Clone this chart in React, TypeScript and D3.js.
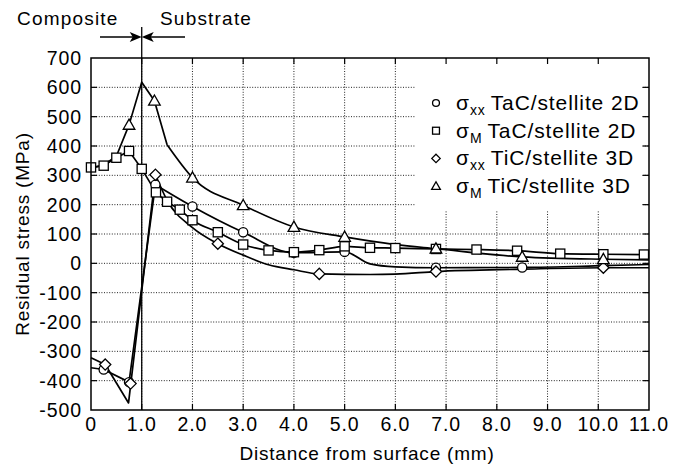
import React from "react";
import * as d3 from "d3";

type Pt = [number, number];

// axis ticks
const xTickValues = d3.range(0, 12);
const yTickValues = d3.range(-500, 701, 100);

// sigma_xx TaC/stellite 2D (circles)
const sxxTaCLine: Pt[] = [
  [0, -356], [0.25, -362], [0.75, -405], [1.27, 268], [2.0, 194], [3.0, 106],
  [4.0, 36], [5.0, 39], [5.5, -2], [6.0, -12], [6.8, -15], [8.5, -14], [10.1, -8], [11, -4],
];
const sxxTaCMarks: Pt[] = [
  [0.25, -362], [0.75, -405], [1.27, 268], [2.0, 194], [3.0, 106], [4.0, 36],
  [5.0, 39], [6.8, -15], [8.5, -14], [10.1, -8],
];

// sigma_M TaC/stellite 2D (squares)
const sMTaCLine: Pt[] = [
  [0, 327], [0.25, 333], [0.5, 360], [0.75, 383], [1.0, 322], [1.28, 242], [1.5, 210],
  [1.75, 183], [2.0, 147], [2.5, 106], [3.0, 64], [3.5, 44], [4.0, 38], [4.5, 45],
  [5.0, 58], [5.5, 53], [6.0, 52], [6.8, 49], [7.6, 47], [8.4, 43], [9.25, 33],
  [10.1, 31], [10.9, 30],
];
const sMTaCMarks: Pt[] = sMTaCLine;

// sigma_xx TiC/stellite 3D (diamonds)
const sxxTiCLine: Pt[] = [
  [0, -322], [0.28, -345], [0.74, -476], [1.27, 302], [1.5, 215], [2.0, 122],
  [2.5, 67], [3.0, 28], [3.5, -5], [4.0, -22], [4.5, -36], [5.5, -38], [6.0, -37],
  [6.8, -28], [8.5, -20], [10.1, -15], [11, -15],
];
const sxxTiCMarks: Pt[] = [
  [0.28, -345], [0.78, -410], [1.27, 302], [2.5, 67], [4.5, -36], [6.8, -28], [10.1, -15],
];

// sigma_M TiC/stellite 3D (triangles)
const sMTiCLine: Pt[] = [
  [0, 325], [0.25, 335], [0.5, 365], [0.75, 472], [1.0, 617], [1.25, 554], [1.5, 404],
  [2.0, 292], [3.0, 198], [4.0, 124], [5.0, 90], [6.0, 64], [6.8, 50], [8.5, 22],
  [10.1, 14], [11, 12],
];
const sMTiCMarks: Pt[] = [
  [0.75, 472], [1.25, 554], [2.0, 292], [3.0, 198], [4.0, 124], [5.0, 90],
  [6.8, 50], [8.5, 22], [10.1, 14],
];

// straight segments up to this depth, smooth decay after it
const straightUntil = [1.27, 1.28, 1.27, 1.5];

const legendSub = ["xx", "M", "xx", "M"];
const legendRest = ["TaC/stellite 2D", "TaC/stellite 2D", "TiC/stellite 3D", "TiC/stellite 3D"];
const legendShape = ["circle", "square", "diamond", "triangle"];

const W = 677;
const H = 468;
const left = 91;
const right = 649;
const top = 58;
const bottom = 410;
const FONT = "'Liberation Sans', Arial, Helvetica, sans-serif";

function Marker({ shape, x, y, s = 1 }: { shape: string; x: number; y: number; s?: number }) {
  const common = { fill: "#fff", stroke: "#000", strokeWidth: 1.3 };
  if (shape === "circle") return <circle cx={x} cy={y} r={4.6 * s} {...common} />;
  if (shape === "square") {
    const h = 4.6 * s;
    return <rect x={x - h} y={y - h} width={2 * h} height={2 * h} {...common} />;
  }
  if (shape === "diamond") {
    const h = 5.6 * s;
    return <path d={`M${x},${y - h}L${x + h},${y}L${x},${y + h}L${x - h},${y}Z`} {...common} />;
  }
  const h = 5.8 * s;
  return <path d={`M${x},${y - h}L${x + h},${y + h * 0.75}L${x - h},${y + h * 0.75}Z`} {...common} />;
}

export default function App() {
  const x = d3.scaleLinear().domain([0, 11]).range([left, right]);
  const y = d3.scaleLinear().domain([-500, 700]).range([bottom, top]);
  const straight = d3
    .line<Pt>()
    .x((d) => x(d[0]))
    .y((d) => y(d[1]));
  const smooth = d3
    .line<Pt>()
    .x((d) => x(d[0]))
    .y((d) => y(d[1]))
    .curve(d3.curveMonotoneX);

  const series = [
    { line: sxxTaCLine, marks: sxxTaCMarks, shape: "circle" },
    { line: sMTaCLine, marks: sMTaCMarks, shape: "square" },
    { line: sxxTiCLine, marks: sxxTiCMarks, shape: "diamond" },
    { line: sMTiCLine, marks: sMTiCMarks, shape: "triangle" },
  ];

  const innerX = xTickValues.filter((d) => d > 0 && d < 11);
  const innerY = yTickValues.filter((d) => d > -500 && d < 700);
  const x1 = x(1);

  const legX = 436;
  const legY0 = 103;
  const legDy = 27.7;

  return (
    <svg
      width={W}
      height={H}
      style={{ position: "absolute", left: 0, top: 0, background: "#fff" }}
      fontFamily={FONT}
    >
      <rect width={W} height={H} fill="#fff" />
      {/* dotted grid */}
      <g stroke="#222" strokeWidth={1} strokeDasharray="1,1.6">
        {innerX.map((d) => (
          <line key={"gx" + d} x1={x(d)} x2={x(d)} y1={top} y2={bottom} />
        ))}
        {innerY.map((d) => (
          <line key={"gy" + d} x1={left} x2={right} y1={y(d)} y2={y(d)} />
        ))}
      </g>
      {/* legend background */}
      <rect x={415} y={top + 1} width={227} height={152} fill="#fff" />

      {/* interface line */}
      <line x1={x1} x2={x1} y1={27} y2={bottom} stroke="#000" strokeWidth={1.3} />

      {/* curves */}
      {series.map((s, i) => {
        const near = s.line.filter((p) => p[0] <= straightUntil[i]);
        const far = s.line.filter((p) => p[0] >= straightUntil[i]);
        return (
          <g key={"l" + i} fill="none" stroke="#000" strokeWidth={1.7} strokeLinejoin="round">
            <path d={straight(near) || ""} />
            <path d={smooth(far) || ""} />
          </g>
        );
      })}
      {series.map((s, i) =>
        s.marks.map((p, j) => (
          <Marker key={`m${i}-${j}`} shape={s.shape} x={x(p[0])} y={y(p[1])} />
        ))
      )}

      {/* frame and inward ticks */}
      <rect x={left} y={top} width={right - left} height={bottom - top} fill="none" stroke="#000" strokeWidth={1.5} />
      <g stroke="#000" strokeWidth={1.2}>
        {innerX.map((d) => (
          <g key={"tx" + d}>
            <line x1={x(d)} x2={x(d)} y1={bottom} y2={bottom - 6} />
            <line x1={x(d)} x2={x(d)} y1={top} y2={top + 6} />
          </g>
        ))}
        {innerY.map((d) => (
          <g key={"ty" + d}>
            <line x1={left} x2={left + 6} y1={y(d)} y2={y(d)} />
            <line x1={right} x2={right - 6} y1={y(d)} y2={y(d)} />
          </g>
        ))}
      </g>

      {/* tick labels */}
      <g fontSize={19.5} fill="#000" letterSpacing={0.9}>
        {xTickValues.map((d) => (
          <text key={"xl" + d} x={x(d)} y={431} textAnchor="middle">
            {d === 0 ? "0" : d.toFixed(1)}
          </text>
        ))}
        {yTickValues.map((d) => (
          <text key={"yl" + d} x={82} y={y(d) + 7} textAnchor="end">
            {d}
          </text>
        ))}
      </g>

      {/* axis titles */}
      <text x={(left + right) / 2 - 3} y={460} textAnchor="middle" fontSize={19} letterSpacing={0.8}>
        Distance from surface (mm)
      </text>
      <text
        transform={`translate(29,${(top + bottom) / 2}) rotate(-90)`}
        textAnchor="middle"
        fontSize={19}
        letterSpacing={0.8}
      >
        Residual stress (MPa)
      </text>

      {/* composite / substrate annotation */}
      <text x={17} y={25} fontSize={19} letterSpacing={1.2}>Composite</text>
      <text x={160} y={25} fontSize={19} letterSpacing={1.2}>Substrate</text>
      <g stroke="#000" strokeWidth={1.3}>
        <line x1={100} x2={x1 - 8} y1={37} y2={37} />
        <line x1={185} x2={x1 + 8} y1={37} y2={37} />
      </g>
      <path d={`M${x1},37L${x1 - 12},32L${x1 - 9},37L${x1 - 12},42Z`} fill="#000" />
      <path d={`M${x1},37L${x1 + 12},32L${x1 + 9},37L${x1 + 12},42Z`} fill="#000" />

      {/* legend */}
      {legendShape.map((sh, i) => {
        const ly = legY0 + i * legDy;
        return (
          <g key={"lg" + i}>
            <Marker shape={sh} x={legX} y={ly} s={0.75} />
            <text x={456} y={ly + 7} fontSize={21} letterSpacing={0.9}>
              <tspan>σ</tspan>
              <tspan dy={5} fontSize={14}>{legendSub[i]}</tspan>
              <tspan dy={-5} dx={5}>{legendRest[i]}</tspan>
            </text>
          </g>
        );
      })}
    </svg>
  );
}
